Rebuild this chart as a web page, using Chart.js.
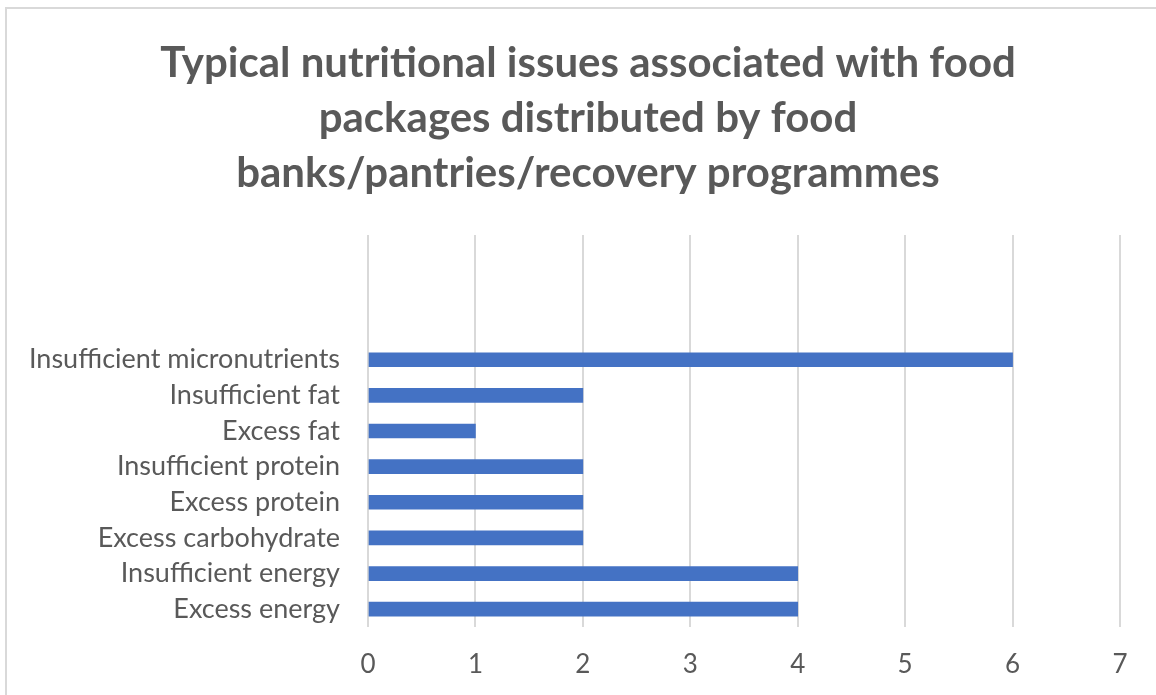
<!DOCTYPE html>
<html>
<head>
<meta charset="utf-8">
<script src="https://cdn.jsdelivr.net/npm/chart.js@4.4.1/dist/chart.umd.min.js"></script>
<style>
  html, body { margin: 0; padding: 0; background: #fff; overflow: hidden; }
  #wrap { position: relative; width: 1156px; height: 695px; }
  #frame { position: absolute; left: 5px; top: 7px; width: 1200px; height: 720px; border: 2px solid #d9d9d9; box-sizing: border-box; pointer-events: none; }
  canvas { position: absolute; left: 0; top: 0; }
</style>
</head>
<body>
<div id="wrap">
  <canvas id="chart" width="1156" height="695"></canvas>
  <div id="frame"></div>
</div>
<script>
// Datos del gráfico (de arriba hacia abajo)
const titleLines = [
  'Typical nutritional issues associated with food',
  'packages distributed by food',
  'banks/pantries/recovery programmes'
];
const categorias = [
  '', '', '',
  'Insufficient micronutrients',
  'Insufficient fat',
  'Excess fat',
  'Insufficient protein',
  'Excess protein',
  'Excess carbohydrate',
  'Insufficient energy',
  'Excess energy'
];
const valores = [null, null, null, 6, 2, 1, 2, 2, 2, 4, 4];
const ejeMin = 0;
const ejeMax = 7;

const fuente = 'Lato, "Open Sans", sans-serif';
const gris = '#595959';

// titulo dibujado a mano para centrarlo como en el original
const tituloPlugin = {
  id: 'tituloManual',
  afterDraw(chart) {
    const ctx = chart.ctx;
    ctx.save();
    ctx.fillStyle = gris;
    ctx.font = 'bold 42px ' + fuente;
    ctx.textAlign = 'center';
    ctx.textBaseline = 'middle';
    titleLines.forEach((t, i) => ctx.fillText(t, 588, 63 + i * 55));
    ctx.restore();
  }
};

new Chart(document.getElementById('chart'), {
  type: 'bar',
  data: {
    labels: categorias,
    datasets: [{ label: 'Count', data: valores, backgroundColor: '#4472C4', barThickness: 14 }]
  },
  options: {
    indexAxis: 'y',
    responsive: false,
    animation: false,
    layout: { padding: { top: 235, right: 36, left: 0, bottom: 0 } },
    plugins: { legend: { display: false }, tooltip: { enabled: false }, title: { display: false } },
    scales: {
      x: {
        min: ejeMin, max: ejeMax,
        ticks: { stepSize: 1, color: gris, font: { family: fuente, size: 26 }, padding: 22 },
        grid: { color: '#d9d9d9', lineWidth: 2, drawTicks: false },
        border: { display: false },
        afterFit(scale) { scale.height = 68; }
      },
      y: {
        ticks: { color: gris, font: { family: fuente, size: 27 }, padding: 28, autoSkip: false },
        grid: { display: false, drawTicks: false },
        border: { display: false },
        afterFit(scale) { scale.width = 368; }
      }
    }
  },
  plugins: [tituloPlugin]
});
</script>
</body>
</html>
